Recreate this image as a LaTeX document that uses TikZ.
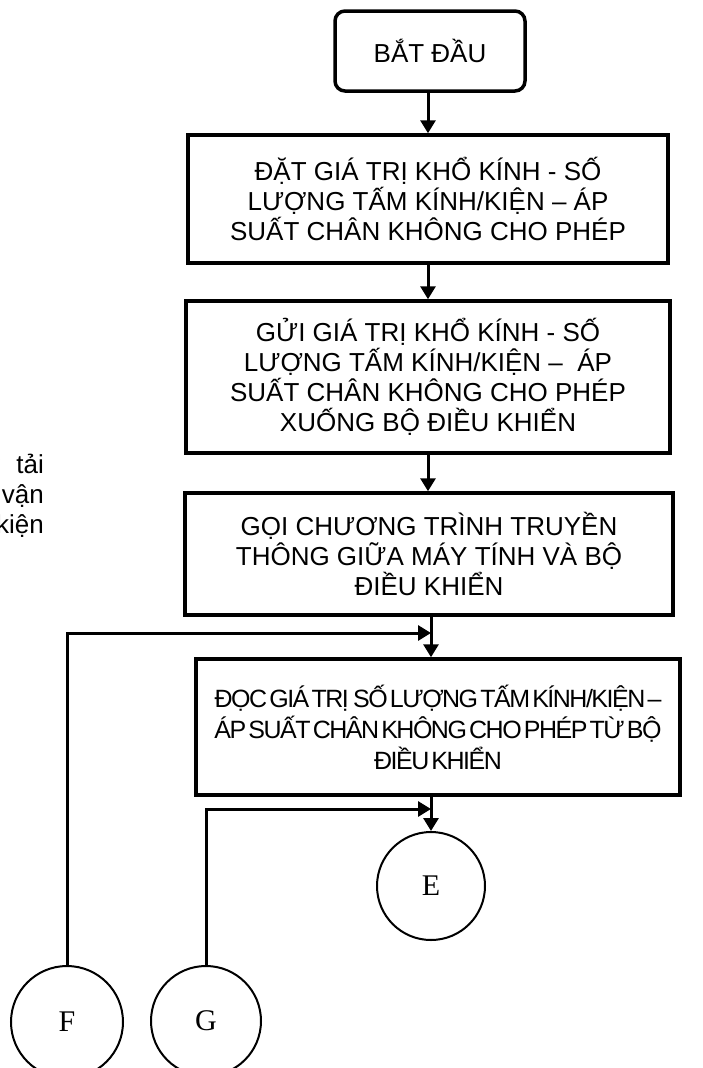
\documentclass[tikz,border=0pt]{standalone}
\usepackage{fontspec}
\setmainfont{Liberation Sans}
\newfontfamily\serifcirc{Liberation Serif}
\newfontfamily\condensedsans[LetterSpace=-6,WordSpace=0.4]{Liberation Sans}
\usetikzlibrary{arrows.meta}
\tikzset{
  box/.style={draw, line width=3.5pt, align=center, inner sep=0pt, font=\fontsize{26}{30}\selectfont},
  startbox/.style={box, rounded corners=10pt},
  arr/.style={line width=3pt, -{Triangle[width=15pt,length=13pt]}},
  circ/.style={draw, line width=2pt, circle, inner sep=0pt, font=\serifcirc\fontsize{30}{30}\selectfont},
}
\begin{document}
\begin{tikzpicture}[x=1pt,y=-1pt]
\useasboundingbox (0,0) rectangle (702,1068);
\node[startbox, minimum width=190pt, minimum height=80pt] (s) at (430,51) {BẮT ĐẦU};
\node[box, minimum width=480pt, minimum height=128pt] (b2) at (428,199) {ĐẶT GIÁ TRỊ KHỔ KÍNH - SỐ\\LƯỢNG TẤM KÍNH/KIỆN – ÁP\\SUẤT CHÂN KHÔNG CHO PHÉP};
\node[box, minimum width=484pt, minimum height=152pt] (b3) at (428,377) {GỬI GIÁ TRỊ KHỔ KÍNH - SỐ\\LƯỢNG TẤM KÍNH/KIỆN –\ \ ÁP\\SUẤT CHÂN KHÔNG CHO PHÉP\\XUỐNG BỘ ĐIỀU KHIỂN};
\node[box, minimum width=488pt, minimum height=122pt] (b4) at (429,554) {GỌI CHƯƠNG TRÌNH TRUYỀN\\THÔNG GIỮA MÁY TÍNH VÀ BỘ\\ĐIỀU KHIỂN};
\node[box, minimum width=484pt, minimum height=136pt, font=\condensedsans\fontsize{25}{31}\selectfont] (b5) at (438,727) {ĐỌC GIÁ TRỊ\ \ SỐ LƯỢNG TẤM KÍNH/KIỆN –\\ÁP SUẤT CHÂN KHÔNG CHO PHÉP TỪ BỘ\\ĐIỀU KHIỂN};
\node[circ, minimum size=108pt] (E) at (431,886) {E};
\node[circ, minimum size=112pt] (F) at (67,1022) {F};
\node[circ, minimum size=110pt] (G) at (206,1021) {G};
\node[anchor=base east, align=right, inner sep=0pt, font=\fontsize{26}{30}\selectfont] (frag) at (44,533) {g\ \ tải\\vận\\kiện};
\coordinate (j1) at (431,633);
\coordinate (j2) at (431,809);
\draw[arr] (s.south -| 428,0) -- (b2.north -| 428,0);
\draw[arr] (b2.south -| 428,0) -- (b3.north -| 428,0);
\draw[arr] (b3.south -| 428,0) -- (b4.north -| 428,0);
\draw[arr] (b4.south -| j1) -- (b5.north -| j1);
\draw[arr] (F.north) |- (j1);
\draw[arr] (b5.south -| j2) -- (E.north);
\draw[arr] (G.north) |- (j2);
\end{tikzpicture}
\end{document}
